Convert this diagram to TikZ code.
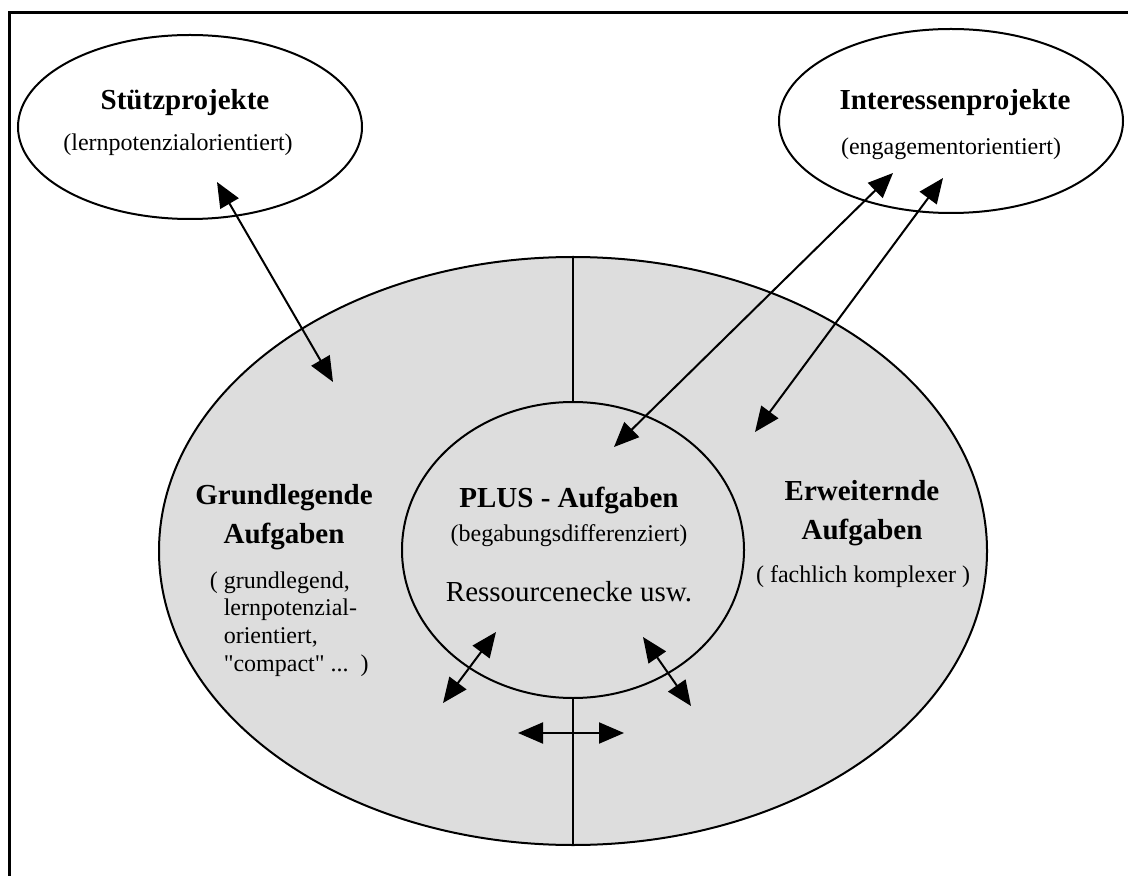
\documentclass[tikz,border=0pt]{standalone}
\usepackage{fontspec}
\setmainfont{Liberation Serif}
\usepackage{xcolor}
\usetikzlibrary{arrows.meta, positioning, shapes.geometric}
\definecolor{flaeche}{HTML}{DDDDDD}

\begin{document}
\begin{tikzpicture}[x=0.5pt, y=-0.5pt, thick, node distance=1cm, >={Triangle[length=12.5pt, width=10.5pt]}]

		% Define block styles
		\tikzstyle{projekt} = [ellipse, draw, line width=1pt, minimum width=172pt, minimum height=92pt, inner sep=0pt]
		\tikzstyle{bereich} = [ellipse, draw, line width=1pt, fill=flaeche, inner sep=0pt]
		\tikzstyle{titel} = [font=\bfseries\fontsize{14.5}{19.5}\selectfont, align=center, inner sep=0pt]
		\tikzstyle{zusatz} = [font=\fontsize{12}{13.8}\selectfont, align=center, inner sep=0pt]
		\tikzstyle{pfeil} = [<->, line width=1pt]

		\useasboundingbox (0,0) rectangle (1128,876);
		\draw[line width=1.5pt] (9,876) -- (9,13) -- (1128,13);

		% Nodes
		\node[projekt] (stuetz) at (190,127) {};
		\node[projekt] (interessen) at (951,121) {};
		\node[bereich, minimum width=414pt, minimum height=294pt] (aussen) at (573,551) {};
		\node[bereich, minimum width=171pt, minimum height=148pt] (plus) at (573,550) {};

		% Trennlinien
		\draw[line width=1pt] (aussen.north) -- (plus.north);
		\draw[line width=1pt] (plus.south) -- (aussen.south);

		% Arrows
		\coordinate (stuetzEnde) at (217,182);
		\coordinate (grundEnde) at (333,382);
		\coordinate (interEndeA) at (893,173);
		\coordinate (plusEnde) at (614,447);
		\coordinate (interEndeB) at (943,178);
		\coordinate (erwEnde) at (755,432);
		\coordinate (linksInnen) at (496,632);
		\coordinate (linksAussen) at (443,703);
		\coordinate (rechtsInnen) at (643,637);
		\coordinate (rechtsAussen) at (691,706);
		\coordinate (mitteLinks) at (518,733);
		\coordinate (mitteRechts) at (624,733);

		\draw[pfeil] (stuetzEnde) -- (grundEnde);
		\draw[pfeil] (plusEnde) -- (interEndeA);
		\draw[pfeil] (erwEnde) -- (interEndeB);
		\draw[pfeil] (linksInnen) -- (linksAussen);
		\draw[pfeil] (rechtsInnen) -- (rechtsAussen);
		\draw[pfeil] (mitteLinks) -- (mitteRechts);

		% Labels
		\node[titel, above of=stuetz, node distance=12pt, xshift=-2.5pt] (stuetzTitel) {Stützprojekte};
		\node[zusatz, below of=stuetz, node distance=9pt, xshift=-6pt] (stuetzText) {(lernpotenzialorientiert)};
		\node[titel, above of=interessen, node distance=9pt, xshift=2pt] (interTitel) {Interessenprojekte};
		\node[zusatz, below of=interessen, node distance=14pt] (interText) {(engagementorientiert)};

		\node[titel, above of=plus, node distance=25pt, xshift=-2pt] (plusTitel) {PLUS - Aufgaben};
		\node[zusatz, above of=plus, node distance=7pt, xshift=-2pt] (plusText) {(begabungsdifferenziert)};
		\node[font=\fontsize{14.5}{17}\selectfont, inner sep=0pt, below of=plus, node distance=21pt, xshift=-2pt] (ressourcen) {Ressourcenecke usw.};

		\node[titel] (grundTitel) at (284,517) {Grundlegende\\Aufgaben};
		\node[zusatz, align=left, anchor=west] (grundText) at (209,624) {( grundlegend,\\\hphantom{( }lernpotenzial-\\\hphantom{( }orientiert,\\\hphantom{( }\textquotedbl compact\textquotedbl{} ...~~)};

		\node[titel] (erwTitel) at (862,513) {Erweiternde\\Aufgaben};
		\node[zusatz] (erwText) at (863,577) {( fachlich komplexer )};

\end{tikzpicture}
\end{document}
